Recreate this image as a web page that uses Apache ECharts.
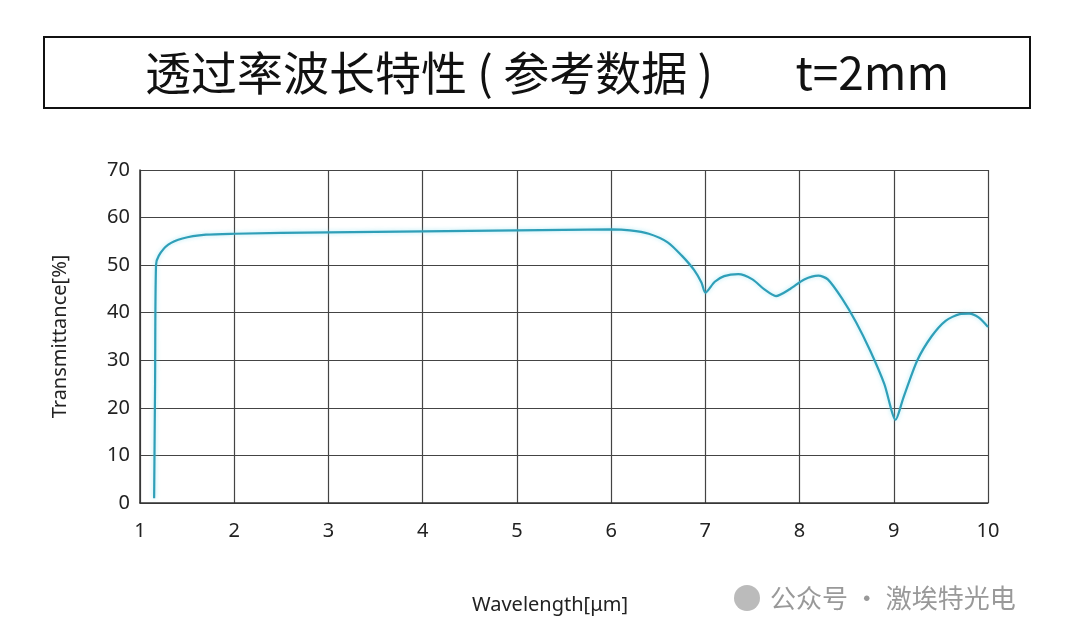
<!DOCTYPE html>
<html>
<head>
<meta charset="utf-8">
<script src="https://cdn.jsdelivr.net/npm/echarts@6/dist/echarts.min.js"></script>
<style>html,body{margin:0;background:#fff}#chart{width:1080px;height:641px}</style>
</head>
<body>
<div id="chart"></div>
<script>
var wavelength = [1.15, 1.16, 1.17, 1.2, 1.3, 1.45, 1.7, 2, 3, 4, 5, 6, 6.2, 6.4, 6.6, 6.75, 6.88, 6.96, 7.0, 7.1, 7.2, 7.35, 7.5, 7.62, 7.75, 7.9, 8.05, 8.2, 8.3, 8.45, 8.6, 8.75, 8.9, 9.02, 9.1, 9.25, 9.4, 9.55, 9.7, 9.8, 9.9, 10];
var transmittance = [1, 25, 50, 52, 54.3, 55.6, 56.4, 56.6, 56.9, 57.1, 57.3, 57.5, 57.3, 56.6, 54.8, 52, 49, 46.3, 44.2, 46.5, 47.7, 48.1, 47, 45, 43.5, 45, 47, 47.8, 47, 43, 38, 32, 25, 17.5, 22, 30, 35, 38.3, 39.7, 39.8, 39, 37];

var chart = echarts.init(document.getElementById('chart'));
var labelFont = { color: '#222', fontSize: 20, fontFamily: 'Noto Sans' };
chart.setOption({
    animation: false,
    grid: { left: 140, right: 92, top: 170, bottom: 138 },
    xAxis: {
        type: 'value', min: 1, max: 10, interval: 1,
        name: 'Wavelength[μm]', nameLocation: 'middle', nameGap: 92,
        nameTextStyle: { color: '#222', fontSize: 20, fontFamily: 'Noto Sans', padding: [0, 28, 0, 0] },
        axisLine: { lineStyle: { color: '#333', width: 1.5 } },
        axisTick: { show: false },
        axisLabel: Object.assign({ margin: 18 }, labelFont),
        splitLine: { lineStyle: { color: '#444', width: 1.2 } }
    },
    yAxis: {
        type: 'value', min: 0, max: 70, interval: 10,
        name: 'Transmittance[%]', nameLocation: 'middle', nameGap: 70,
        nameTextStyle: { color: '#222', fontSize: 20, fontFamily: 'Noto Sans' },
        axisLine: { show: true, lineStyle: { color: '#333', width: 1.5 } },
        axisTick: { show: false },
        axisLabel: Object.assign({ margin: 10 }, labelFont),
        splitLine: { lineStyle: { color: '#444', width: 1.2 } }
    },
    series: [{
        type: 'line', smooth: 0.25, symbol: 'none',
        data: wavelength.map(function (w, i) { return [w, transmittance[i]]; }),
        lineStyle: { color: '#2f9fb8', width: 2.2, shadowColor: 'rgba(120,220,240,0.6)', shadowBlur: 4 }
    }],
    graphic: [
        { type: 'rect', shape: { x: 44, y: 37, width: 986, height: 71 },
          style: { fill: '#fff', stroke: '#111', lineWidth: 2 } },
        { type: 'text', x: 547, y: 73,
          style: { text: '透过率波长特性 ( 参考数据 )        t=2mm', font: '46px "Noto Sans CJK SC"', fill: '#111',
                   textAlign: 'center', textVerticalAlign: 'middle' } },
        { type: 'circle', shape: { cx: 747, cy: 598, r: 13 }, style: { fill: '#bbb' } },
        { type: 'text', x: 770, y: 598,
          style: { text: '公众号 · 激埃特光电', font: '26px "Noto Sans CJK SC"', fill: '#999', textVerticalAlign: 'middle' } }
    ]
});
</script>
</body>
</html>
